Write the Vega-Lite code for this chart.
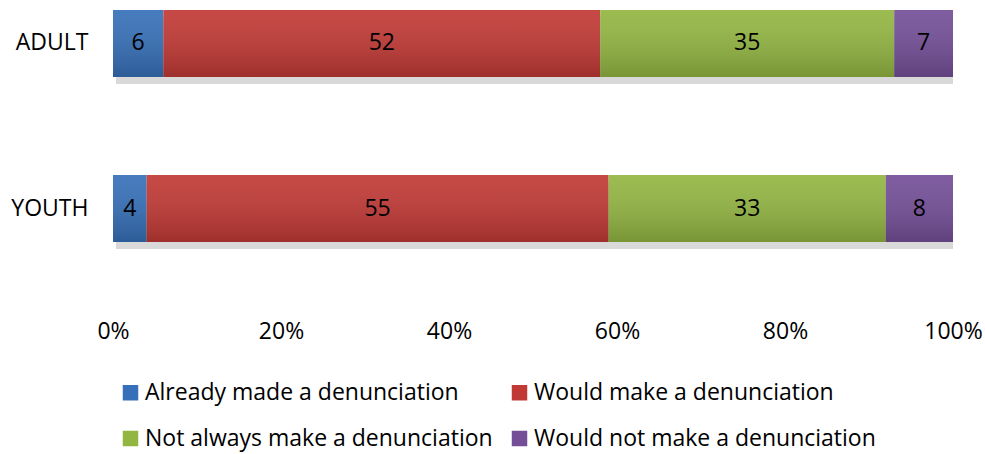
{
  "$schema": "https://vega.github.io/schema/vega-lite/v6.json",
  "width": 840,
  "height": 300,
  "autosize": "none",
  "padding": {"left": 113, "top": 10, "right": 32, "bottom": 144},
  "background": "white",
  "config": {
    "view": {"stroke": null},
    "font": "Open Sans"
  },
  "data": {
    "values": [
      {"group": "ADULT", "category": "Already made a denunciation", "k": 1, "value": 6},
      {"group": "ADULT", "category": "Would make a denunciation", "k": 2, "value": 52},
      {"group": "ADULT", "category": "Not always make a denunciation", "k": 3, "value": 35},
      {"group": "ADULT", "category": "Would not make a denunciation", "k": 4, "value": 7},
      {"group": "YOUTH", "category": "Already made a denunciation", "k": 1, "value": 4},
      {"group": "YOUTH", "category": "Would make a denunciation", "k": 2, "value": 55},
      {"group": "YOUTH", "category": "Not always make a denunciation", "k": 3, "value": 33},
      {"group": "YOUTH", "category": "Would not make a denunciation", "k": 4, "value": 8}
    ]
  },
  "transform": [
    {"stack": "value", "groupby": ["group"], "sort": [{"field": "k"}], "offset": "normalize", "as": ["v0", "v1"]},
    {"calculate": "(datum.v0 + datum.v1) / 2", "as": "mid"}
  ],
  "encoding": {
    "y": {
      "field": "group", "type": "nominal", "sort": ["ADULT", "YOUTH"],
      "scale": {"paddingInner": 0.594, "paddingOuter": 0.206, "align": 0},
      "axis": {"title": null, "domain": false, "ticks": false, "labelFontSize": 23, "labelPadding": 25, "labelColor": "#000", "labelFont": "Open Sans"}
    }
  },
  "layer": [
    {
      "transform": [{"aggregate": [{"op": "min", "field": "v0", "as": "start"}, {"op": "max", "field": "v1", "as": "end"}], "groupby": ["group"]}],
      "mark": {"type": "bar", "xOffset": 3, "yOffset": 7, "color": "#000", "opacity": 0.15},
      "encoding": {
        "x": {"field": "start", "type": "quantitative"},
        "x2": {"field": "end"}
      }
    },
    {
      "mark": {"type": "bar"},
      "encoding": {
        "x": {
          "field": "v0", "type": "quantitative", "scale": {"domain": [0, 1], "nice": false},
          "axis": {"title": null, "format": ".0%", "values": [0, 0.2, 0.4, 0.6, 0.8, 1], "grid": false, "domain": false, "ticks": false, "labelFontSize": 23, "labelPadding": 10, "labelColor": "#000", "labelFont": "Open Sans", "labelFlush": false}
        },
        "x2": {"field": "v1"},
        "color": {
          "field": "category", "type": "nominal",
          "sort": ["Already made a denunciation", "Would make a denunciation", "Not always make a denunciation", "Would not make a denunciation"],
          "scale": {
            "domain": ["Already made a denunciation", "Would make a denunciation", "Not always make a denunciation", "Would not make a denunciation"],
            "range": ["#3670b8", "#c13935", "#93b642", "#744f98"]
          },
          "legend": {
            "title": null, "orient": "none", "legendX": 6, "legendY": 371, "direction": "horizontal", "columns": 2,
            "symbolType": "square", "symbolSize": 240, "symbolStrokeWidth": 0, "symbolOpacity": 1,
            "labelFontSize": 23, "labelFont": "Open Sans", "labelColor": "#000", "labelOffset": 3,
            "rowPadding": 22, "columnPadding": 15, "labelLimit": 400
          }
        },
        "order": {"field": "k"}
      }
    },
    {
      "mark": {
        "type": "bar",
        "fill": {"gradient": "linear", "x1": 0, "y1": 0, "x2": 0, "y2": 1, "stops": [{"offset": 0, "color": "rgba(255,255,255,0.08)"}, {"offset": 1, "color": "rgba(0,0,0,0.18)"}]}
      },
      "encoding": {
        "x": {"field": "v0", "type": "quantitative"},
        "x2": {"field": "v1"}
      }
    },
    {
      "mark": {"type": "text", "fontSize": 23, "color": "#000"},
      "encoding": {
        "x": {"field": "mid", "type": "quantitative"},
        "text": {"field": "value", "type": "quantitative"}
      }
    }
  ]
}
